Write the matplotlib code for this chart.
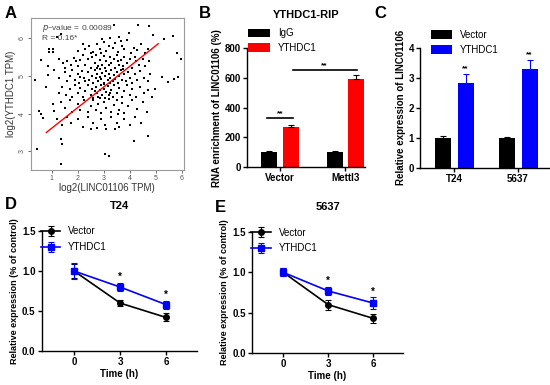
import numpy as np
import matplotlib
matplotlib.use("Agg")
import matplotlib.pyplot as plt

plt.rcParams['font.family'] = ['Liberation Sans', 'DejaVu Sans']

# ---- panel A: correlation scatter (log2 TPM) ----
pts = [
    (1.2, 6.03), (1.36, 6.1), (3.39, 6.36), (3.96, 6.13), (4.32, 6.36), (4.75, 6.32),
    (4.89, 6.07), (5.33, 5.98), (5.66, 6.05), (2.95, 5.98), (3.25, 6.0), (3.6, 6.02),
    (0.89, 5.72), (1.04, 5.72), (0.89, 5.63), (1.04, 5.63), (2.0, 5.65), (2.3, 5.7),
    (2.45, 5.78), (2.6, 5.62), (2.75, 5.85), (2.85, 5.72), (3.0, 5.9), (3.1, 5.65),
    (3.2, 5.8), (3.35, 5.75), (3.45, 5.88), (3.55, 5.62), (3.7, 5.8), (3.8, 5.7),
    (3.9, 5.95), (4.05, 5.6), (4.15, 5.75), (4.3, 5.68), (4.45, 5.85), (4.6, 5.6),
    (4.7, 5.72), (5.81, 5.61), (2.2, 5.85), (2.9, 5.6), (3.65, 5.92), (2.5, 5.6),
    (0.59, 5.41), (0.87, 5.26), (1.3, 5.45), (1.45, 5.35), (1.6, 5.4), (1.75, 5.3),
    (1.85, 5.48), (2.0, 5.25), (2.1, 5.42), (2.2, 5.55), (2.3, 5.3), (2.4, 5.45),
    (2.5, 5.22), (2.55, 5.5), (2.65, 5.35), (2.7, 5.55), (2.8, 5.25), (2.85, 5.42),
    (2.95, 5.3), (3.0, 5.52), (3.05, 5.2), (3.1, 5.4), (3.2, 5.28), (3.25, 5.5),
    (3.3, 5.35), (3.4, 5.45), (3.45, 5.22), (3.5, 5.55), (3.6, 5.3), (3.65, 5.42),
    (3.75, 5.25), (3.8, 5.5), (3.9, 5.35), (4.0, 5.45), (4.1, 5.22), (4.2, 5.5),
    (4.35, 5.3), (4.5, 5.45), (4.6, 5.25), (4.75, 5.4), (5.97, 5.45), (1.95, 5.38),
    (2.75, 5.2), (3.55, 5.38), (4.25, 5.38), (1.5, 5.22),
    (0.38, 4.9), (0.87, 5.03), (1.1, 5.15), (1.3, 4.95), (1.5, 5.1), (1.6, 4.85),
    (1.7, 5.0), (1.8, 5.15), (1.9, 4.9), (2.0, 5.05), (2.05, 4.82), (2.15, 5.12),
    (2.25, 4.95), (2.3, 4.85), (2.4, 5.1), (2.45, 4.9), (2.55, 5.0), (2.6, 4.82),
    (2.65, 5.15), (2.7, 4.95), (2.75, 5.05), (2.8, 4.85), (2.85, 5.18), (2.9, 4.92),
    (2.95, 5.08), (3.0, 4.82), (3.05, 5.0), (3.1, 5.12), (3.15, 4.88), (3.2, 5.05),
    (3.25, 4.95), (3.3, 5.15), (3.35, 4.85), (3.4, 5.02), (3.45, 4.92), (3.5, 5.1),
    (3.55, 4.82), (3.6, 5.0), (3.65, 5.15), (3.7, 4.9), (3.8, 5.05), (3.85, 4.85),
    (3.95, 5.1), (4.0, 4.95), (4.1, 4.82), (4.2, 5.05), (4.3, 4.9), (4.4, 5.12),
    (4.55, 4.95), (4.7, 4.85), (4.8, 5.05), (5.24, 4.98), (5.47, 4.83), (5.71, 4.92),
    (5.87, 4.98), (2.1, 4.98), (2.85, 4.98), (3.25, 4.82), (3.75, 5.18),
    (0.78, 4.7), (1.3, 4.55), (1.4, 4.7), (1.55, 4.5), (1.7, 4.65), (1.8, 4.45),
    (1.9, 4.75), (2.0, 4.55), (2.1, 4.68), (2.2, 4.45), (2.3, 4.6), (2.4, 4.75),
    (2.5, 4.5), (2.55, 4.65), (2.6, 4.42), (2.7, 4.7), (2.75, 4.55), (2.8, 4.45),
    (2.85, 4.62), (2.9, 4.75), (2.95, 4.5), (3.0, 4.65), (3.05, 4.42), (3.1, 4.58),
    (3.15, 4.72), (3.2, 4.48), (3.3, 4.62), (3.35, 4.45), (3.4, 4.75), (3.5, 4.55),
    (3.6, 4.68), (3.7, 4.45), (3.8, 4.6), (3.9, 4.75), (4.0, 4.5), (4.1, 4.65),
    (4.25, 4.45), (4.4, 4.7), (4.55, 4.55), (4.7, 4.62), (4.96, 4.65), (4.85, 4.45),
    (2.65, 4.6), (3.0, 4.78), (3.25, 4.55),
    (0.53, 4.08), (0.59, 4.0), (1.04, 4.26), (1.08, 4.08), (1.35, 4.3), (1.5, 4.15),
    (1.7, 4.35), (1.8, 4.05), (2.0, 4.25), (2.1, 4.1), (2.25, 4.35), (2.4, 4.05),
    (2.5, 4.2), (2.6, 4.35), (2.7, 4.1), (2.8, 4.25), (2.9, 4.02), (3.0, 4.3),
    (3.1, 4.15), (3.2, 4.38), (3.3, 4.05), (3.4, 4.22), (3.5, 4.35), (3.6, 4.1),
    (3.7, 4.28), (3.8, 4.02), (3.95, 4.2), (4.1, 4.35), (4.3, 4.12), (4.5, 4.3),
    (4.65, 4.05), (2.85, 4.4), (3.55, 4.0),
    (0.66, 3.88), (1.2, 3.85), (1.4, 3.7), (1.6, 3.9), (1.75, 3.75), (2.0, 3.85),
    (2.2, 3.65), (2.4, 3.9), (2.6, 3.75), (2.75, 3.62), (2.9, 3.85), (3.05, 3.7),
    (3.1, 3.6), (3.3, 3.9), (3.5, 3.75), (3.6, 3.65), (3.8, 3.85), (4.0, 3.7),
    (4.2, 3.9), (4.45, 3.75), (3.45, 3.6), (2.5, 3.6),
    (0.43, 3.06), (1.36, 3.33), (1.39, 3.2), (1.36, 2.67), (3.07, 2.93), (3.2, 2.88),
    (4.18, 3.26), (4.69, 3.4),
]
linc_tpm = [p[0] for p in pts]
ythdc1_tpm = [p[1] for p in pts]
fit_x = [0.8, 5.1]
fit_y = [3.5, 5.85]

# ---- panel B: RIP ----
rip_groups = ['Vector', 'Mettl3']
rip_igg = [100, 100]
rip_igg_err = [10, 10]
rip_ythdc1 = [270, 590]
rip_ythdc1_err = [15, 30]

# ---- panel C ----
c_groups = ['T24', '5637']
c_vector = [1.0, 1.0]
c_vector_err = [0.07, 0.04]
c_ythdc1 = [2.83, 3.28]
c_ythdc1_err = [0.3, 0.32]

# ---- panels D/E: stability time course ----
time_h = [0, 3, 6]
d_vector = [1.0, 0.6, 0.42]
d_vector_err = [0.09, 0.04, 0.05]
d_ythdc1 = [1.0, 0.8, 0.58]
d_ythdc1_err = [0.1, 0.05, 0.05]
e_vector = [1.0, 0.6, 0.43]
e_vector_err = [0.05, 0.06, 0.06]
e_ythdc1 = [1.0, 0.77, 0.62]
e_ythdc1_err = [0.05, 0.05, 0.07]

RED = '#ff0000'
BLUE = '#0000ff'

fig = plt.figure(figsize=(5.5, 3.85), dpi=100)


def prism(ax):
    for s in ['top', 'right']:
        ax.spines[s].set_visible(False)
    for s in ['left', 'bottom']:
        ax.spines[s].set_linewidth(1.0)
    ax.tick_params(width=1.0, length=3, labelsize=7, pad=1.5)
    for lab in ax.get_xticklabels() + ax.get_yticklabels():
        lab.set_fontweight('bold')


# A
axA = fig.add_axes([0.056, 0.558, 0.278, 0.395])
axA.scatter(linc_tpm, ythdc1_tpm, s=2.2, c='black', marker='s', linewidths=0)
axA.plot(fit_x, fit_y, color=RED, lw=1.0)
axA.set_xlim(0.2, 6.08)
axA.set_ylim(2.5, 6.53)
axA.set_xticks([1, 2, 3, 4, 5, 6])
axA.set_yticks([3, 4, 5, 6])
for s in axA.spines.values():
    s.set_color('#999999')
    s.set_linewidth(0.8)
axA.tick_params(colors='#555555', labelsize=5, length=2, width=0.6, pad=1.5)
for lab in axA.get_yticklabels():
    lab.set_rotation(90)
    lab.set_va('center')
axA.set_xlabel('log2(LINC01106 TPM)', fontsize=7, color='#333333', labelpad=1)
axA.set_ylabel('log2(YTHDC1 TPM)', fontsize=7, color='#333333', labelpad=2)
axA.text(0.07, 0.97, r'$p$' + '\u2013value = 0.00089', transform=axA.transAxes,
         fontsize=6, color='#444444', va='top')
axA.text(0.07, 0.89, 'R = 0.16*', transform=axA.transAxes,
         fontsize=6, color='#444444', va='top')

# B
axB = fig.add_axes([0.449, 0.566, 0.215, 0.309])
xb = np.arange(len(rip_groups))
w = 0.24
axB.bar(xb - 0.165, rip_igg, w, color='black', label='IgG',
        yerr=rip_igg_err, error_kw=dict(ecolor='black', capsize=2, lw=0.8, capthick=0.8))
axB.bar(xb + 0.165, rip_ythdc1, w, color=RED, label='YTHDC1',
        yerr=[[0, 0], rip_ythdc1_err], error_kw=dict(ecolor='black', capsize=2, lw=0.8, capthick=0.8))
axB.set_xlim(-0.5, 1.3)
axB.set_ylim(0, 800)
axB.set_yticks([0, 200, 400, 600, 800])
axB.set_xticks(xb)
axB.set_xticklabels(rip_groups)
prism(axB)
axB.set_ylabel('RNA enrichment of LINC01106 (%)', fontsize=7, fontweight='bold', labelpad=2)
axB.set_title('YTHDC1-RIP', fontsize=8, fontweight='bold', pad=22)
axB.plot([-0.2, 0.2], [330, 330], color='black', lw=1.2, clip_on=False)
axB.text(0.0, 335, '**', ha='center', va='bottom', fontsize=6, fontweight='bold')
axB.plot([0.2, 1.17], [650, 650], color='black', lw=1.2, clip_on=False)
axB.text(0.68, 655, '**', ha='center', va='bottom', fontsize=6, fontweight='bold')
axB.legend(loc='upper left', bbox_to_anchor=(-0.02, 1.2), frameon=False, fontsize=7,
           handlelength=2.2, handleheight=1.0, labelspacing=0.5, borderaxespad=0)

# C
axC = fig.add_axes([0.764, 0.564, 0.236, 0.312])
xc = np.arange(len(c_groups))
axC.bar(xc - 0.18, c_vector, w + 0.01, color='black', label='Vector',
        yerr=[[0, 0], c_vector_err], error_kw=dict(ecolor='black', capsize=2, lw=0.8, capthick=0.8))
axC.bar(xc + 0.18, c_ythdc1, w + 0.01, color=BLUE, label='YTHDC1',
        yerr=[[0, 0], c_ythdc1_err], error_kw=dict(ecolor=BLUE, capsize=2, lw=0.8, capthick=0.8))
for i in range(len(c_groups)):
    axC.text(xc[i] + 0.18, c_ythdc1[i] + c_ythdc1_err[i] + 0.05, '**', ha='center',
             va='bottom', fontsize=6, fontweight='bold')
axC.set_xlim(-0.53, 1.5)
axC.set_ylim(0, 4)
axC.set_yticks([0, 1, 2, 3, 4])
axC.set_xticks(xc)
axC.set_xticklabels(c_groups)
prism(axC)
axC.set_ylabel('Relative expression of LINC01106', fontsize=7, fontweight='bold', labelpad=2)
axC.legend(loc='upper left', bbox_to_anchor=(0.05, 1.18), frameon=False, fontsize=7,
           handlelength=2.2, handleheight=1.0, labelspacing=0.5, borderaxespad=0)


def timecourse(rect, title, vec, vec_err, yth, yth_err):
    ax = fig.add_axes(rect)
    ax.errorbar(time_h, vec, yerr=vec_err, color='black', marker='o', ms=4,
                lw=1.2, capsize=2.5, elinewidth=0.8, capthick=0.8, label='Vector')
    ax.errorbar(time_h, yth, yerr=yth_err, color=BLUE, marker='s', ms=4,
                lw=1.2, capsize=2.5, elinewidth=0.8, capthick=0.8, label='YTHDC1')
    for i in [1, 2]:
        ax.text(time_h[i], yth[i] + yth_err[i] + 0.01, '*', ha='center', va='bottom',
                fontsize=7, fontweight='bold')
    ax.set_xlim(-2.1, 8)
    ax.set_ylim(0, 1.5)
    ax.set_xticks(time_h)
    ax.set_yticks([0.0, 0.5, 1.0, 1.5])
    ax.set_yticklabels(['0.0', '0.5', '1.0', '1.5'])
    prism(ax)
    ax.set_xlabel('Time (h)', fontsize=7, fontweight='bold', labelpad=1)
    ax.set_ylabel('Relative expression (% of control)', fontsize=6.5, fontweight='bold',
                  labelpad=2)
    ax.set_title(title, fontsize=8, fontweight='bold', pad=16)
    ax.legend(loc='upper left', bbox_to_anchor=(-0.03, 1.07), frameon=False, fontsize=7,
              handlelength=2.0, labelspacing=0.6, borderaxespad=0)
    return ax


timecourse([0.076, 0.088, 0.282, 0.312], 'T24', d_vector, d_vector_err, d_ythdc1, d_ythdc1_err)
timecourse([0.458, 0.083, 0.275, 0.314], '5637', e_vector, e_vector_err, e_ythdc1, e_ythdc1_err)

for lbl, x, y in [('A', 0.008, 0.965), ('B', 0.362, 0.965), ('C', 0.68, 0.965),
                  ('D', 0.008, 0.47), ('E', 0.39, 0.462)]:
    fig.text(x, y, lbl, fontsize=12, fontweight='bold', va='center')

fig.savefig('out.png', dpi=100)
